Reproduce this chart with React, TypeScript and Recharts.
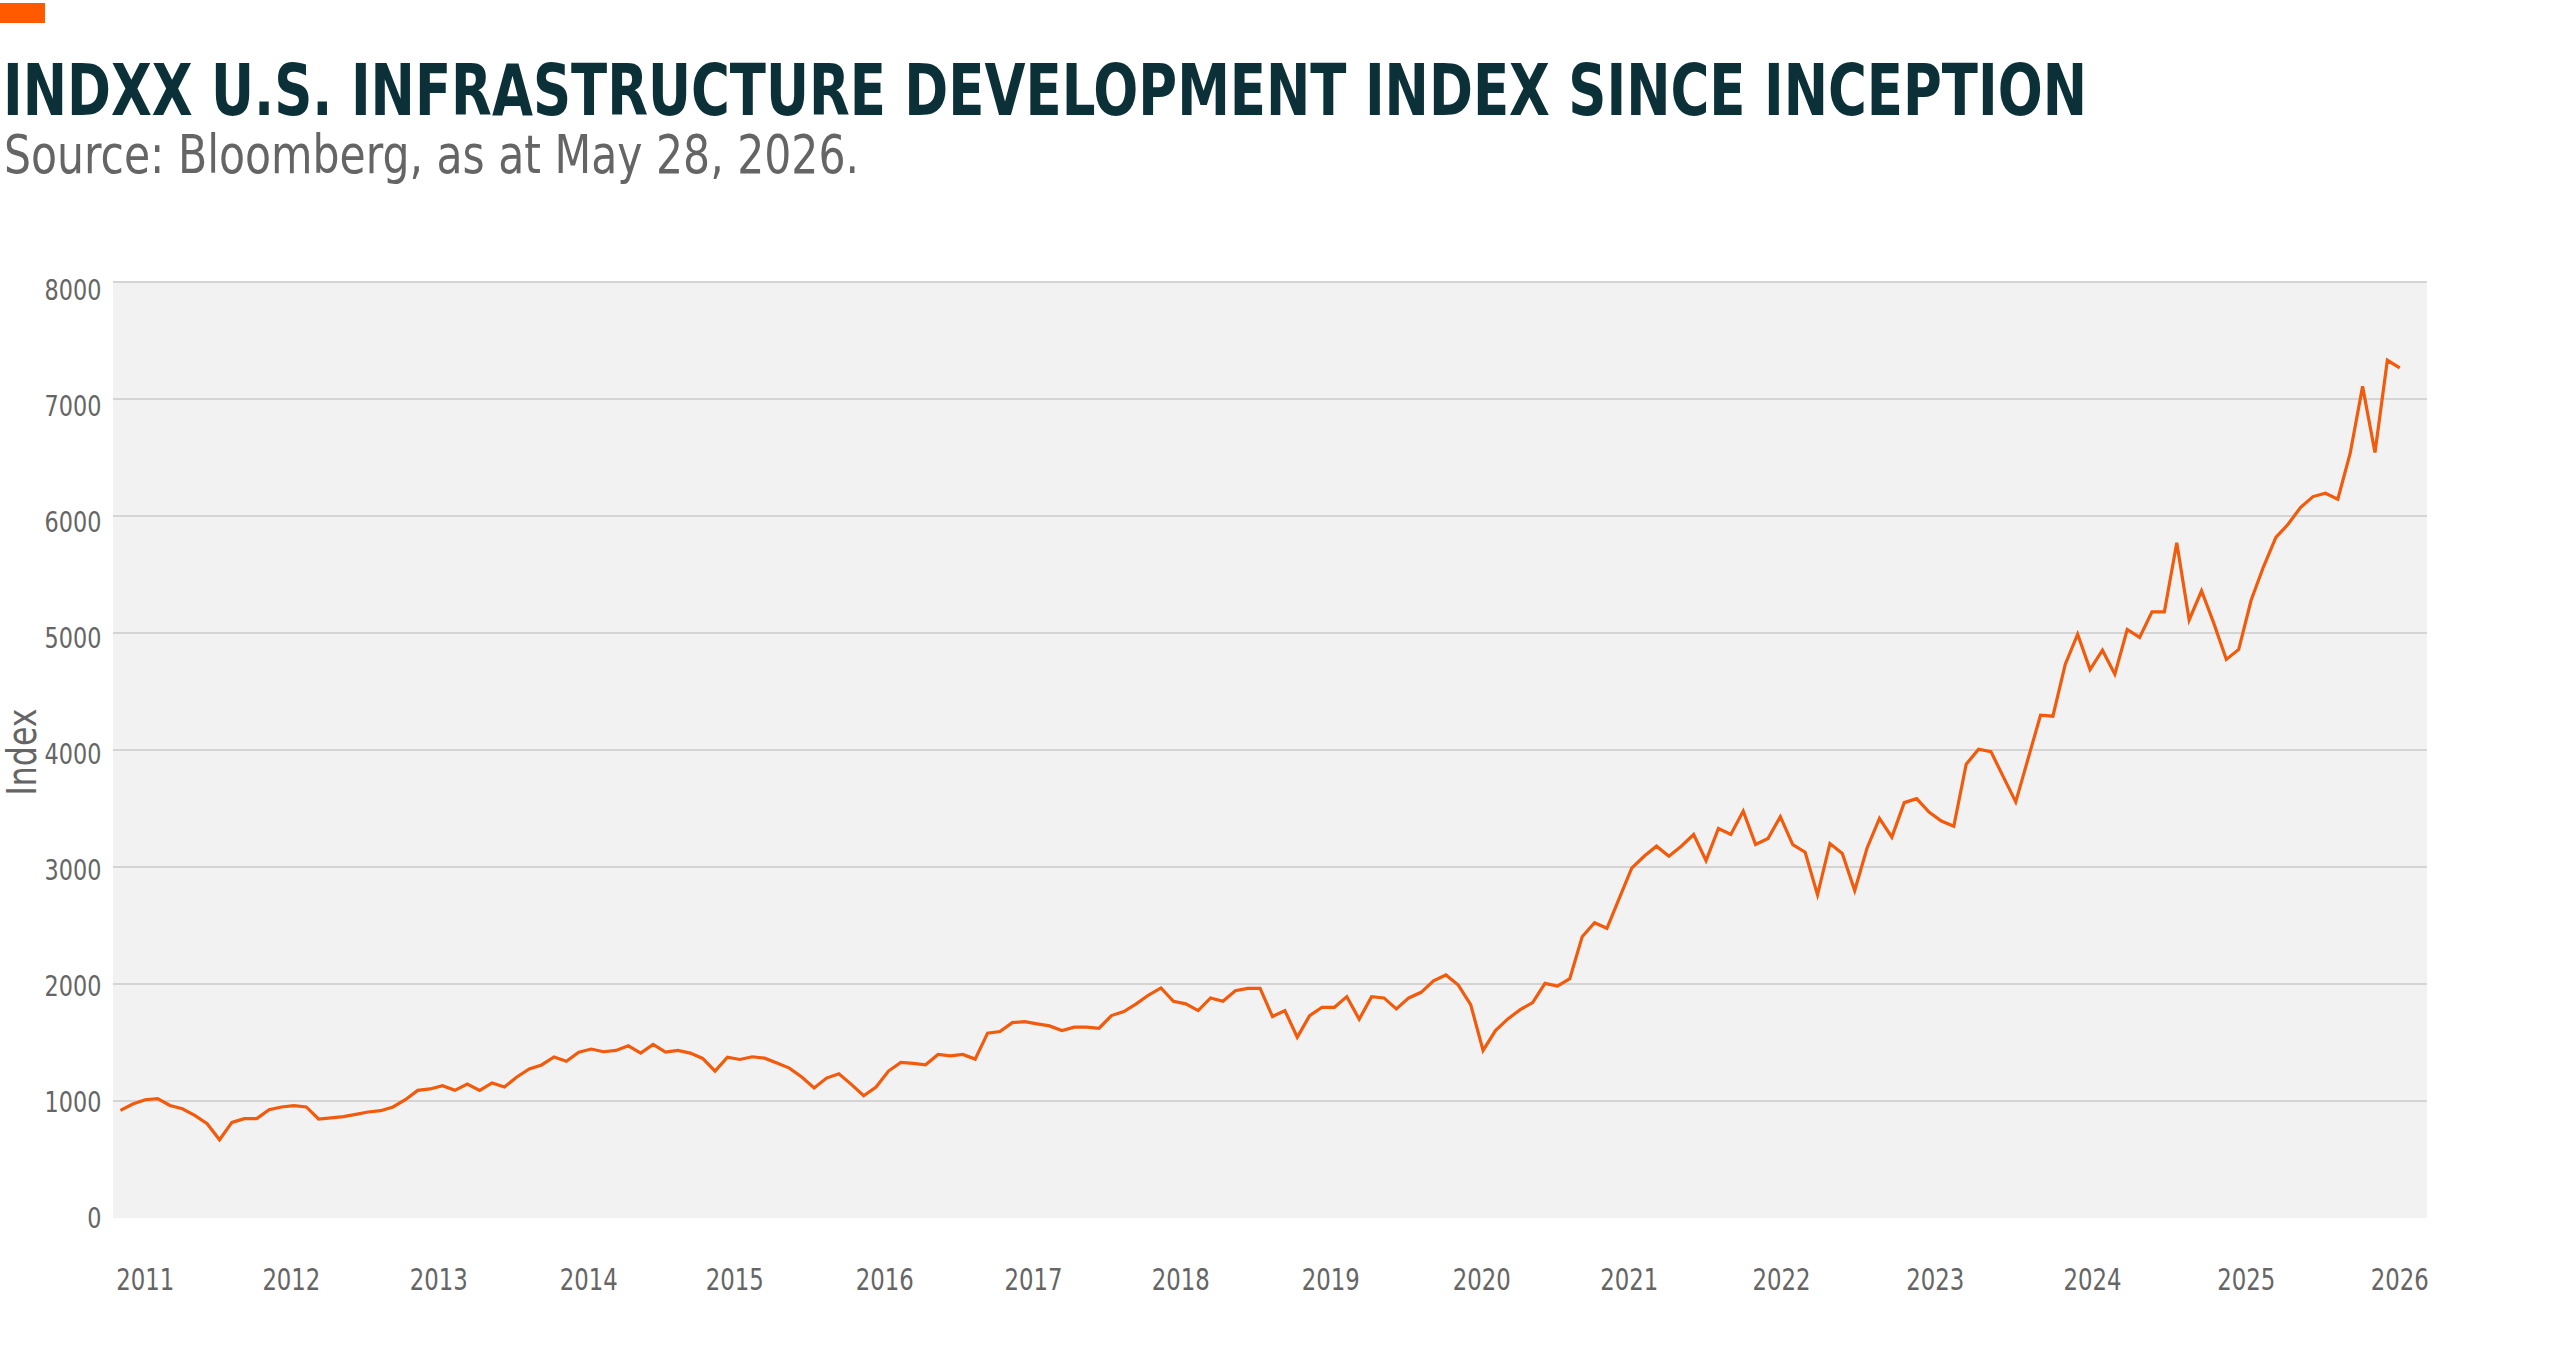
import { LineChart, Line, XAxis, YAxis, CartesianGrid } from "recharts";

// ─── Data ────────────────────────────────────────────────────────────────────

// Monthly index level (first point just before 2011, last May 2026)
const indexLevels = [
  920, 974, 1011, 1020, 962, 934, 877, 806, 669, 817,
  849, 849, 926, 949, 960, 949, 846, 855, 866, 886,
  906, 917, 949, 1011, 1091, 1103, 1131, 1091, 1145, 1091,
  1154, 1120, 1205, 1274, 1308, 1376, 1339, 1416, 1444, 1421,
  1432, 1472, 1409, 1483, 1418, 1432, 1409, 1364, 1256, 1375,
  1355, 1378, 1366, 1324, 1281, 1205, 1111, 1196, 1233, 1142,
  1045, 1119, 1256, 1330, 1321, 1310, 1398, 1386, 1398, 1358,
  1580, 1594, 1670, 1679, 1659, 1642, 1602, 1631, 1631, 1622,
  1730, 1764, 1830, 1906, 1966, 1852, 1830, 1773, 1881, 1852,
  1943, 1963, 1963, 1722, 1773, 1545, 1730, 1801, 1801, 1892,
  1699, 1892, 1881, 1787, 1881, 1929, 2028, 2077, 1991, 1824,
  1432, 1602, 1702, 1781, 1841, 2005, 1982, 2045, 2404, 2524,
  2476, 2734, 2991, 3092, 3178, 3092, 3178, 3278, 3054, 3329,
  3278, 3478, 3192, 3244, 3430, 3192, 3126, 2762, 3201, 3115,
  2799, 3163, 3415, 3255, 3550, 3584, 3470, 3393, 3348, 3878,
  4006, 3986, 3770, 3556, 3927, 4297, 4289, 4733, 4990, 4688,
  4853, 4648, 5030, 4962, 5181, 5181, 5771, 5112, 5361, 5080,
  4774, 4860, 5280, 5566, 5817, 5931, 6074, 6166, 6194, 6143,
  6537, 7108, 6543, 7331, 7266,
];

// Year labels and where they sit along the monthly series (in points)
const yearLabels = [
  "2011", "2012", "2013", "2014", "2015", "2016", "2017", "2018",
  "2019", "2020", "2021", "2022", "2023", "2024", "2025", "2026",
];
const yearTickPos = [
  2, 13.8, 25.7, 37.8, 49.6, 61.7, 73.7, 85.6,
  97.7, 109.9, 121.8, 134.1, 146.5, 159.2, 171.6, 184,
];

const yTicks = [0, 1000, 2000, 3000, 4000, 5000, 6000, 7000, 8000];

const TITLE = "INDXX U.S. INFRASTRUCTURE DEVELOPMENT INDEX SINCE INCEPTION";
const SUBTITLE = "Source: Bloomberg, as at May 28, 2026.";

// ─── Styles ──────────────────────────────────────────────────────────────────

// No narrow Liberation face in the sandbox: DejaVu Condensed squeezed with textLength
const NARROW = "'Liberation Sans Narrow', 'Arial Narrow', 'DejaVu Sans Condensed', sans-serif";
const ORANGE = "#f25a0c";
const MUTED = "#656565";

const data = indexLevels.map((v, i) => ({ i, v }));

function YTick({ x, y, payload }: { x: number; y: number; payload: { value: number } }) {
  const s = String(payload.value);
  // labels drift slightly below their gridlines towards the top, as in the source
  return (
    <text x={x} y={y + payload.value * 0.00101 + 10.4} textAnchor="end" fontFamily={NARROW} fontSize={28}
      fill={MUTED} textLength={s.length * 14.2} lengthAdjust="spacingAndGlyphs">
      {s}
    </text>
  );
}

function XTick({ x, y, payload }: { x: number; y: number; payload: { value: number } }) {
  const k = yearTickPos.indexOf(payload.value);
  return (
    <text x={x} y={y + 72} textAnchor="middle" fontFamily={NARROW} fontSize={31} fill={MUTED}
      textLength={58} lengthAdjust="spacingAndGlyphs">
      {yearLabels[k] ?? ""}
    </text>
  );
}

export default function App() {
  return (
    <div style={{ position: "absolute", left: 0, top: 0, width: 2560, height: 1357, background: "#fff" }}>
      <svg width={2560} height={200} style={{ position: "absolute", left: 0, top: 0 }}>
        <rect x={0} y={3} width={45} height={20} fill="#ff5a00" />
        <text x={3} y={115} fontFamily={NARROW} fontWeight="bold" fontSize={71} fill="#0b3038"
          textLength={2084} lengthAdjust="spacingAndGlyphs">
          {TITLE}
        </text>
        <text x={4} y={173} fontFamily={NARROW} fontSize={54} fill={MUTED}
          textLength={855} lengthAdjust="spacingAndGlyphs">
          {SUBTITLE}
        </text>
      </svg>
      <div style={{ position: "absolute", left: 0, top: 0 }}>
        <LineChart width={2560} height={1357} data={data} margin={{ top: 282, right: 133, left: 0, bottom: 39 }}>
          <CartesianGrid vertical={false} fill="#f2f2f2" stroke="#d4d4d4" strokeWidth={2}
            horizontalValues={yTicks.slice(1)} />
          <XAxis dataKey="i" type="number" domain={[-0.6, 186.2]} ticks={yearTickPos} interval={0}
            height={100} axisLine={false} tickLine={false} tickSize={0} tickMargin={0} tick={XTick} />
          <YAxis domain={[0, 8000]} ticks={yTicks} interval={0} width={113} axisLine={false}
            tickLine={false} tickSize={0} tickMargin={11.6} tick={YTick}
            label={{
              content: () => (
                <text transform="translate(36 752) rotate(-90)" textAnchor="middle" fontFamily={NARROW}
                  fontSize={40} fill={MUTED} textLength={87} lengthAdjust="spacingAndGlyphs">Index</text>
              ),
            }} />
          <Line dataKey="v" type="linear" stroke={ORANGE} strokeWidth={3.2} dot={false} isAnimationActive={false} />
        </LineChart>
      </div>
    </div>
  );
}
